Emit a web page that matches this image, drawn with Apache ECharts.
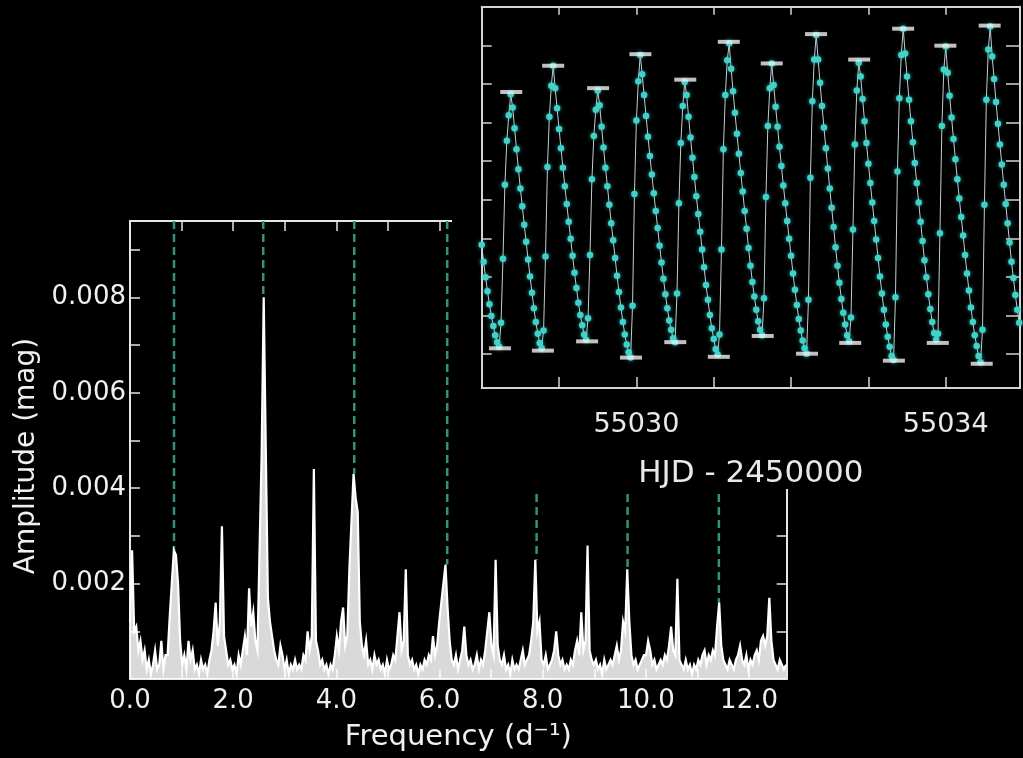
<!DOCTYPE html>
<html><head><meta charset="utf-8">
<script src="https://cdn.jsdelivr.net/npm/echarts@6/dist/echarts.min.js"></script>
<style>html,body{margin:0;padding:0;background:#000;}#c{width:1023px;height:758px;}</style>
</head><body><div id="c"></div>
<script>
// ---------- Periodogram (main panel) ----------
const freqStep = 0.0405; // d^-1 sampling of the amplitude spectrum
const ampE4 = [ // amplitude in units of 1e-4 mag
 12,27,10,11,6,8,4,6,2,4,
 1,3,6,2,3,8,2,5,5,13,
 20,27,26,20,8,3,5,2,8,4,
 6,2,3,1,4,2,3,1,4,6,
 10,16,7,12,32,9,6,3,4,2,
 3,1,5,3,6,9,5,19,11,14,
 8,6,27,47,80,48,17,12,9,6,
 4,3,7,5,2,4,1,3,2,4,
 2,3,2,5,4,10,6,9,44,8,
 6,3,4,2,3,1,3,2,5,9,
 6,12,15,7,9,23,33,43,38,35,
 12,7,5,8,3,4,2,5,3,4,
 2,3,1,4,2,3,5,4,9,14,
 6,8,23,5,3,4,2,3,1,3,
 2,4,3,5,4,9,5,7,12,16,
 20,24,15,8,4,3,5,2,4,6,
 11,5,3,4,2,3,5,2,4,3,
 6,10,14,7,5,25,7,4,3,5,
 2,3,1,4,2,3,2,4,6,3,
 4,5,8,12,25,10,12,4,3,5,
 2,3,4,6,10,5,3,4,2,3,
 2,4,3,6,8,5,14,6,8,28,
 6,4,3,4,2,3,1,4,2,3,
 4,3,5,7,4,6,12,10,23,12,
 5,3,4,2,3,4,5,5,8,6,
 3,4,2,3,4,3,5,4,7,11,
 6,5,21,4,3,2,4,2,3,1,
 3,2,4,3,5,6,3,5,4,6,
 5,11,16,7,4,3,2,4,3,2,
 4,5,7,4,3,5,2,4,3,5,
 6,4,8,9,7,9,17,8,4,3,
 2,4,3,2,3
];
const markerFreqs = [0.853, 2.583, 4.347, 6.149, 7.882, 9.645, 11.415];
const markerPeaks = [0.0027, 0.0080, 0.0043, 0.0024, 0.0025, 0.0023, 0.0016];
const ampTop = 0.0096;
const freqMax = 12.73;

// ---------- Light curve (inset) ----------
const hjdStart = 55028.0;
const hjdStep = 0.025;
const lcMag = [
 0.058,0.080,0.100,0.118,0.135,0.150,0.163,0.175,0.184,0.190,
 0.159,0.076,-0.020,-0.077,-0.110,-0.137,-0.120,-0.093,-0.066,-0.040,
 -0.015,0.008,0.032,0.054,0.077,0.099,0.120,0.140,0.158,0.173,
 0.185,0.192,0.169,0.073,-0.043,-0.108,-0.148,-0.174,-0.145,-0.119,
 -0.092,-0.067,-0.042,-0.018,0.005,0.028,0.050,0.072,0.094,0.114,
 0.133,0.149,0.162,0.174,0.181,0.153,0.071,-0.027,-0.083,-0.117,
 -0.142,-0.123,-0.095,-0.068,-0.042,-0.018,0.006,0.030,0.052,0.075,
 0.098,0.119,0.139,0.158,0.174,0.187,0.197,0.204,0.137,-0.008,
 -0.103,-0.154,-0.188,-0.163,-0.136,-0.109,-0.082,-0.057,-0.033,-0.009,
 0.014,0.036,0.059,0.081,0.102,0.122,0.140,0.156,0.168,0.179,
 0.184,0.121,0.004,-0.074,-0.122,-0.153,-0.136,-0.108,-0.081,-0.055,
 -0.030,-0.005,0.018,0.041,0.064,0.087,0.110,0.129,0.149,0.166,
 0.180,0.193,0.200,0.174,0.064,-0.066,-0.136,-0.181,-0.203,-0.170,
 -0.141,-0.113,-0.086,-0.060,-0.035,-0.011,0.014,0.037,0.062,0.085,
 0.106,0.125,0.142,0.157,0.168,0.175,0.127,-0.004,-0.096,-0.145,
 -0.177,-0.149,-0.121,-0.095,-0.069,-0.044,-0.019,0.004,0.027,0.050,
 0.072,0.095,0.116,0.136,0.154,0.169,0.182,0.192,0.199,0.129,
 -0.029,-0.128,-0.182,-0.214,-0.182,-0.152,-0.122,-0.094,-0.067,-0.041,
 -0.015,0.010,0.035,0.061,0.085,0.107,0.128,0.146,0.161,0.175,
 0.183,0.152,0.038,-0.072,-0.142,-0.178,-0.160,-0.131,-0.102,-0.074,
 -0.047,-0.022,0.003,0.027,0.051,0.075,0.099,0.121,0.142,0.161,
 0.177,0.190,0.202,0.207,0.126,-0.037,-0.132,-0.188,-0.222,-0.190,
 -0.160,-0.130,-0.102,-0.075,-0.048,-0.022,0.003,0.028,0.053,0.078,
 0.100,0.122,0.141,0.158,0.172,0.181,0.173,0.043,-0.096,-0.169,
 -0.199,-0.165,-0.135,-0.107,-0.079,-0.053,-0.027,-0.002,0.022,0.046,
 0.071,0.095,0.117,0.139,0.158,0.175,0.189,0.202,0.210,0.168,
 0.006,-0.130,-0.195,-0.225,-0.186,-0.157,-0.127,-0.099,-0.072,-0.046,
 -0.020,0.005,0.030,0.055,0.080,0.101,0.123,0.142,0.159
];
const maxHJD = [55028.382,55028.924,55029.505,55030.052,55030.632,55031.195,55031.750,55032.323,55032.881,55033.449,55033.995,55034.568];
const maxMag = [-0.140,-0.174,-0.145,-0.189,-0.156,-0.205,-0.177,-0.215,-0.182,-0.222,-0.200,-0.226];
const minHJD = [55028.236,55028.791,55029.363,55029.930,55030.503,55031.066,55031.634,55032.206,55032.765,55033.329,55033.897,55034.465];
const minMag = [0.192,0.195,0.183,0.204,0.184,0.203,0.176,0.199,0.185,0.208,0.185,0.212];
const hjdMin = 55028.0, hjdMax = 55034.96;
const magTop = -0.2505, magBottom = 0.2434;
const hjdLabels = [55030, 55034];

// ---------- build ----------
const FONT = 'DejaVu Sans';
const WHITE = '#f0f0f0';
const spectrum = ampE4.map((a, i) => [i * freqStep, a * 1e-4]);
const lightCurve = lcMag.map((m, i) => [hjdStart + i * hjdStep, m]);
const extremes = maxHJD.map((t, k) => [t, maxMag[k]]).concat(minHJD.map((t, k) => [t, minMag[k]]));

const mainLine = {show: true, onZero: false, lineStyle: {color: '#e6e6e6', width: 2}};
const mainTick = {show: true, inside: true, length: 10, lineStyle: {color: '#e6e6e6', width: 1.5}};
const inLine = {show: true, onZero: false, lineStyle: {color: '#d4d4d4', width: 2}};
const inTick = {show: true, inside: true, length: 11, lineStyle: {color: '#d4d4d4', width: 1.5}};

const markerSeries = markerFreqs.map((f, k) => ({
  type: 'line', xAxisIndex: 0, yAxisIndex: 0, z: 2,
  data: [[f, ampTop], [f, markerPeaks[k]]],
  showSymbol: false, silent: true, animation: false,
  lineStyle: {color: '#33917f', width: 2.5, type: [8, 5]}
}));

const chart = echarts.init(document.getElementById('c'));
chart.setOption({
  backgroundColor: '#000',
  animation: false,
  grid: [
    {left: 130, right: 236.3, top: 221, bottom: 79},
    {left: 481.7, right: 2, top: 6.7, bottom: 370}
  ],
  graphic: [
    {type: 'rect', z: 50, silent: true, shape: {x: 452, y: 0, width: 571, height: 489}, style: {fill: '#000'}}
  ],
  xAxis: [
    {gridIndex: 0, type: 'value', min: 0, max: freqMax, interval: 1, position: 'bottom',
     axisLine: mainLine, axisTick: mainTick, splitLine: {show: false},
     axisLabel: {color: WHITE, fontSize: 26, fontFamily: FONT, margin: 9,
       formatter: v => { const r = Math.round(v); return (Math.abs(v - r) < 1e-6 && r % 2 === 0) ? r.toFixed(1) : ''; }},
     name: 'Frequency (d⁻¹)', nameLocation: 'middle', nameGap: 44,
     nameTextStyle: {color: WHITE, fontSize: 29, fontFamily: FONT}},
    {gridIndex: 0, type: 'value', min: 0, max: freqMax, interval: 1, position: 'top',
     axisLine: mainLine, axisTick: mainTick, splitLine: {show: false}, axisLabel: {show: false}},
    {gridIndex: 1, type: 'value', min: hjdMin, max: hjdMax, interval: 1, position: 'bottom', z: 60,
     axisLine: inLine, axisTick: inTick, splitLine: {show: false},
     axisLabel: {color: '#e8e8e8', fontSize: 27, fontFamily: FONT, margin: 23,
       formatter: v => hjdLabels.some(h => Math.abs(v - h) < 1e-6) ? String(Math.round(v)) : ''},
     name: 'HJD - 2450000', nameLocation: 'middle', nameGap: 70,
     nameTextStyle: {color: '#e8e8e8', fontSize: 31, fontFamily: FONT}},
    {gridIndex: 1, type: 'value', min: hjdMin, max: hjdMax, interval: 1, position: 'top', z: 60,
     axisLine: inLine, axisTick: {show: true, inside: true, length: 8, lineStyle: {color: '#d4d4d4', width: 1.5}},
     splitLine: {show: false}, axisLabel: {show: false}}
  ],
  yAxis: [
    {gridIndex: 0, type: 'value', min: 0, max: ampTop, interval: 0.001, position: 'left',
     axisLine: mainLine, axisTick: mainTick, splitLine: {show: false},
     axisLabel: {color: WHITE, fontSize: 26, fontFamily: FONT, margin: 4,
       formatter: v => { const k = Math.round(v * 1000); return (Math.abs(v * 1000 - k) < 1e-6 && k > 0 && k % 2 === 0) ? v.toFixed(3) : ''; }},
     name: 'Amplitude (mag)', nameLocation: 'middle', nameRotate: 90, nameGap: 84,
     nameTextStyle: {color: WHITE, fontSize: 28, fontFamily: FONT, padding: [0, 12, 0, 0]}},
    {gridIndex: 0, type: 'value', min: 0, max: ampTop, interval: 0.001, position: 'right',
     axisLine: mainLine, axisTick: mainTick, splitLine: {show: false}, axisLabel: {show: false}},
    {gridIndex: 1, type: 'value', min: magTop, max: magBottom, interval: 0.05, inverse: true, position: 'left', z: 60,
     axisLine: inLine, axisTick: {show: true, inside: true, length: 10, lineStyle: {color: '#d4d4d4', width: 1.5}},
     splitLine: {show: false}, axisLabel: {show: false}},
    {gridIndex: 1, type: 'value', min: magTop, max: magBottom, interval: 0.05, inverse: true, position: 'right', z: 60,
     axisLine: inLine, axisTick: {show: true, inside: true, length: 14, lineStyle: {color: '#d4d4d4', width: 1.5}},
     splitLine: {show: false}, axisLabel: {show: false}}
  ],
  series: [
    ...markerSeries,
    {type: 'line', name: 'spectrum', xAxisIndex: 0, yAxisIndex: 0, z: 3,
     data: spectrum, showSymbol: false, silent: true,
     lineStyle: {color: '#ffffff', width: 2.2, join: 'miter'},
     areaStyle: {color: '#ffffff', opacity: 0.85, origin: 'start'}},
    {type: 'line', name: 'light curve', xAxisIndex: 2, yAxisIndex: 2, z: 70,
     data: lightCurve, symbol: 'circle', symbolSize: 6.5, showSymbol: true, silent: true,
     itemStyle: {color: '#3fd2ca', shadowBlur: 4, shadowColor: 'rgba(80,230,220,0.6)'},
     lineStyle: {color: '#c0d0d0', width: 1}},
    {type: 'scatter', name: 'extrema', xAxisIndex: 2, yAxisIndex: 2, z: 75,
     data: extremes, symbol: 'rect', symbolSize: [22, 4], silent: true,
     itemStyle: {color: '#f0f0f0'}}
  ]
});
</script>
</body></html>
